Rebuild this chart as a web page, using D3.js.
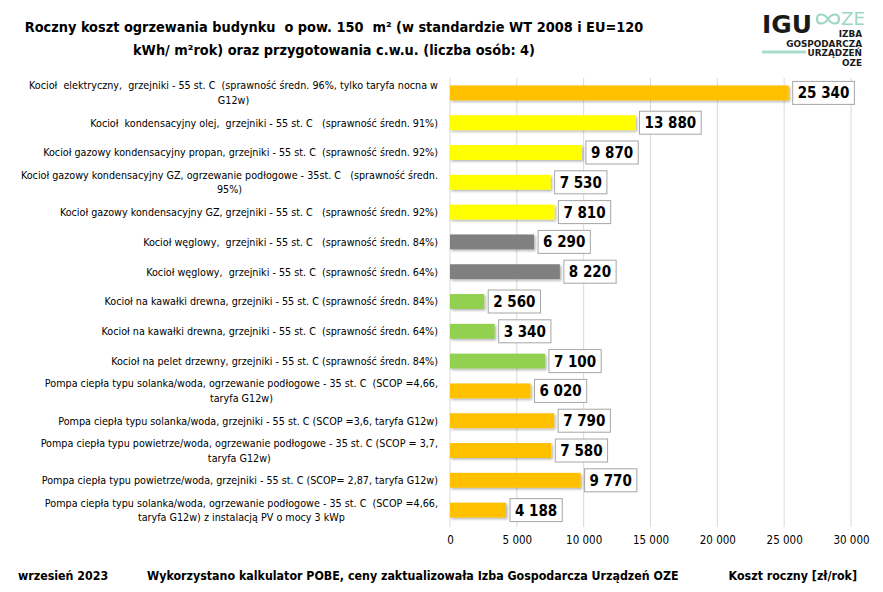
<!DOCTYPE html>
<html><head><meta charset="utf-8">
<script src="https://cdn.jsdelivr.net/npm/d3@7"></script>
<style>body{margin:0;background:#fff}svg{display:block}text{white-space:pre}</style>
</head><body>
<script>
const categories = [
  "Kocioł  elektryczny,  grzejniki - 55 st. C  (sprawność średn. 96%, tylko taryfa nocna w\nG12w)",
  "Kocioł  kondensacyjny olej,  grzejniki - 55 st. C   (sprawność średn. 91%)",
  "Kocioł gazowy kondensacyjny propan, grzejniki - 55 st. C  (sprawność średn. 92%)",
  "Kocioł gazowy kondensacyjny GZ, ogrzewanie podłogowe - 35st. C   (sprawność średn.\n95%)",
  "Kocioł gazowy kondensacyjny GZ, grzejniki - 55 st. C   (sprawność średn. 92%)",
  "Kocioł węglowy,  grzejniki - 55 st. C   (sprawność średn. 84%)",
  "Kocioł węglowy,  grzejniki - 55 st. C  (sprawność średn. 64%)",
  "Kocioł na kawałki drewna, grzejniki - 55 st. C (sprawność średn. 84%)",
  "Kocioł na kawałki drewna, grzejniki - 55 st. C  (sprawność średn. 64%)",
  "Kocioł na pelet drzewny, grzejniki - 55 st. C (sprawność średn. 84%)",
  "Pompa ciepła typu solanka/woda, ogrzewanie podłogowe - 35 st. C  (SCOP =4,66,\ntaryfa G12w)",
  "Pompa ciepła typu solanka/woda, grzejniki - 55 st. C (SCOP =3,6, taryfa G12w)",
  "Pompa ciepła typu powietrze/woda, ogrzewanie podłogowe - 35 st. C (SCOP = 3,7,\ntaryfa G12w)",
  "Pompa ciepła typu powietrze/woda, grzejniki - 55 st. C (SCOP= 2,87, taryfa G12w)",
  "Pompa ciepła typu solanka/woda, ogrzewanie podłogowe - 35 st. C  (SCOP =4,66,\ntaryfa G12w) z instalacją PV o mocy 3 kWp"
];
const values = [25340, 13880, 9870, 7530, 7810, 6290, 8220, 2560, 3340, 7100, 6020, 7790, 7580, 9770, 4188];
const groups = ["elektryczny","paliwo","paliwo","paliwo","paliwo","wegiel","wegiel","drewno","drewno","drewno","pompa","pompa","pompa","pompa","pompa"];
const groupColors = {elektryczny:"#FFC000", paliwo:"#FFFF00", wegiel:"#808080", drewno:"#92D050", pompa:"#FFC000"};
const xTicks = [0, 5000, 10000, 15000, 20000, 25000, 30000];
const titleLines = ["Roczny koszt ogrzewania budynku  o pow. 150  m² (w standardzie WT 2008 i EU=120", "kWh/ m²rok) oraz przygotowania c.w.u. (liczba osób: 4)"];
const footerLeft = "wrzesień 2023";
const footerMid = "Wykorzystano kalkulator POBE, ceny zaktualizowała Izba Gospodarcza Urządzeń OZE";
const axisTitle = "Koszt roczny [zł/rok]";
const logoSmall = ["IZBA", "GOSPODARCZA", "URZĄDZEŃ", "OZE"];

const W = 883, H = 592;
const FONT = "'DejaVu Sans Condensed','Liberation Sans',sans-serif";
const svg = d3.select("body").append("svg").attr("width", W).attr("height", H)
  .style("font-family", FONT);

function fit(sel, target, base) {
  sel.attr("font-size", base);
  const w = sel.node().getComputedTextLength();
  const fs = base * target / w;
  sel.attr("font-size", fs);
  return fs;
}

const defs = svg.append("defs");
const f = defs.append("filter").attr("id","sh").attr("x","-5%").attr("y","-30%").attr("width","120%").attr("height","180%");
f.append("feDropShadow").attr("dx",1.5).attr("dy",1.5).attr("stdDeviation",1.2).attr("flood-color","#000").attr("flood-opacity",0.3);

const x = d3.scaleLinear().domain([0, 30000]).range([450, 851]);
const y = d3.scaleBand().domain(d3.range(categories.length)).range([78, 525]).paddingInner(0.5).paddingOuter(0.25);

// grid
svg.append("g").selectAll("line").data(xTicks).join("line")
  .attr("x1", d => x(d)).attr("x2", d => x(d)).attr("y1", 78).attr("y2", 527)
  .attr("stroke", "#d9d9d9").attr("stroke-width", 1);

// axis labels
const fmt = d => d3.format(",")(d).replace(/,/g, " ");
const ax = d3.axisBottom(x).tickValues(xTicks).tickFormat(fmt).tickSize(0).tickPadding(0);
const axg = svg.append("g").attr("transform", "translate(0,536)").call(ax);
axg.select(".domain").remove();
axg.selectAll("text").attr("font-size", 11.5).attr("fill", "#000").style("font-family", FONT).attr("dy", "0.71em");

// bars
svg.append("g").selectAll("rect").data(values).join("rect")
  .attr("x", x(0)).attr("y", (d, i) => y(i))
  .attr("width", d => x(d) - x(0)).attr("height", y.bandwidth())
  .attr("fill", (d, i) => groupColors[groups[i]]).attr("filter", "url(#sh)");

// category labels (font 11, horizontally condensed to reference width)
const RX = 438, LFS = 11;
const lab = svg.append("g");
const probe = lab.append("text").attr("font-size", LFS).text(categories[1]);
const sx = 348 / probe.node().getComputedTextLength();
probe.remove();
lab.attr("transform", `translate(${RX},0) scale(${sx},1)`);
categories.forEach((c, i) => {
  const lines = c.split("\n");
  const cy = y(i) + y.bandwidth() / 2;
  const lh = 14.5;
  const t = lab.append("text").attr("font-size", LFS).attr("fill", "#000");
  const spans = lines.map((ln, k) => t.append("tspan")
    .attr("x", 0).attr("text-anchor", "end")
    .attr("y", cy + (k - (lines.length - 1) / 2) * lh).attr("dy", "0.35em").text(ln));
  if (spans.length > 1) {
    const first = spans[0].node().getComputedTextLength();
    for (let k = 1; k < spans.length; k++) spans[k].attr("x", -first / 2).attr("text-anchor", "middle");
  }
});

// value labels
const vl = svg.append("g");
values.forEach((v, i) => {
  const cy = y(i) + y.bandwidth() / 2;
  const g = vl.append("g");
  const t = g.append("text").attr("x", x(v) + 9).attr("y", cy).attr("dy", "0.36em")
    .attr("font-size", 15).attr("font-weight", "bold").attr("fill", "#000").text(fmt(v));
  const w = t.node().getComputedTextLength();
  g.insert("rect", "text").attr("x", x(v) + 4).attr("y", cy - 11.5).attr("width", w + 10).attr("height", 23)
    .attr("fill", "#fff").attr("stroke", "#a6a6a6").attr("stroke-width", 1);
});

// title
const tl = svg.append("g").selectAll("text").data(titleLines).join("text")
  .attr("x", 334).attr("y", (d, i) => 32 + i * 23).attr("text-anchor", "middle")
  .attr("font-weight", "bold").attr("fill", "#000").text(d => d);
const tfs = fit(d3.select(tl.nodes()[0]), 619, 16);
tl.attr("font-size", tfs);

// footer
const fm = svg.append("text").attr("x", 147).attr("y", 580).attr("font-weight", "bold").text(footerMid);
const ffs = fit(fm, 532, 13);
svg.append("text").attr("x", 18).attr("y", 580).attr("font-size", ffs).attr("font-weight", "bold").text(footerLeft);
svg.append("text").attr("x", 857).attr("y", 580).attr("text-anchor", "end").attr("font-size", ffs).attr("font-weight", "bold").text(axisTitle);

// logo
const lg = svg.append("g").style("font-family", "'DejaVu Sans','Liberation Sans',sans-serif");
const igu = lg.append("text").attr("x", 762).attr("y", 33).attr("font-weight", "bold").attr("fill", "#1a1a1a").text("IGU");
fit(igu, 50, 28);
lg.append("path")
  .attr("d", "M828,19 C824,13 817,13 817,19 C817,25 824,25 828,19 C832,13 839,13 839,19 C839,25 832,25 828,19 Z")
  .attr("fill", "none").attr("stroke", "#9dd7c4").attr("stroke-width", 2.2);
const ze = lg.append("text").attr("x", 841).attr("y", 25).attr("fill", "#9dd7c4").text("ZE");
fit(ze, 24, 17);
const sg = lg.append("g");
const st = sg.selectAll("text").data(logoSmall).join("text")
  .attr("x", 0).attr("y", (d, i) => 37.5 + i * 9.4).attr("text-anchor", "end")
  .attr("font-size", 8).attr("font-weight", "bold").attr("fill", "#1a1a1a").text(d => d);
const gw = st.nodes()[1].getComputedTextLength();
sg.attr("transform", `translate(862,0) scale(${76 / gw},1)`);
lg.append("rect").attr("x", 762).attr("y", 50.5).attr("width", 44).attr("height", 3).attr("fill", "#a8dccb");
</script>
</body></html>
